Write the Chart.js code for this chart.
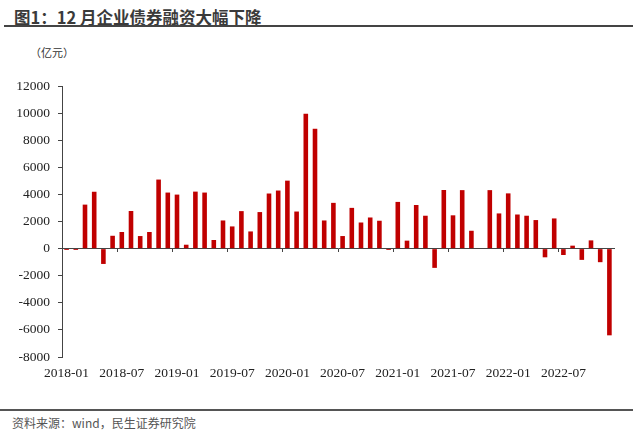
<!DOCTYPE html>
<html>
<head>
<meta charset="utf-8">
<script src="https://cdn.jsdelivr.net/npm/chart.js@4/dist/chart.umd.min.js"></script>
<style>
    body { margin: 0; width: 640px; height: 436px; background: #fff; position: relative; overflow: hidden; }
    .title { position: absolute; left: 14px; top: 5px; font: bold 16.5px "Noto Sans CJK SC", sans-serif; color: #3a3a3a; white-space: nowrap; }
    .title-line { position: absolute; left: 4px; top: 25px; width: 629px; height: 2px; background: #444; }
    .unit { position: absolute; left: 30px; top: 44px; font: 11px "Noto Sans CJK SC", sans-serif; color: #333; white-space: nowrap; }
    .foot-line { position: absolute; left: 0; top: 409px; width: 633px; height: 2px; background: #555; }
    .source { position: absolute; left: 12px; top: 414px; font: 12px "Noto Sans CJK SC", sans-serif; color: #555; white-space: nowrap; }
    #wrap { position: absolute; left: 0; top: 70px; width: 640px; height: 318px; }
</style>
</head>
<body>
<div class="title">图1：12 月企业债券融资大幅下降</div>
<div class="title-line"></div>
<div class="unit">（亿元）</div>
<div id="wrap"><canvas id="bondChart"></canvas></div>
<div class="foot-line"></div>
<div class="source">资料来源：wind，民生证券研究院</div>

<script>
// 月份 2018-01 .. 2022-12
const months = [];
for (let y = 2018; y <= 2022; y++) {
    for (let m = 1; m <= 12; m++) months.push(y + '-' + String(m).padStart(2, '0'));
}

// 企业债券融资（亿元）
const bondFinancing = [
    -100, -100, 3250, 4200, -1130, 950, 1230, 2780, 930, 1230, 5100, 4140,
    3990, 290, 4210, 4140, 640, 2080, 1640, 2770, 1270, 2700, 4070, 4290,
    5020, 2740, 9950, 8850, 2080, 3380, 930, 3010, 1930, 2300, 2060, -100,
    3450, 590, 3220, 2430, -1420, 4330, 2460, 4320, 1320, 0, 4320, 2600,
    4080, 2520, 2430, 2110, -640, 2230, -470, 220, -830, 610, -1000, -6400
];

const yTicks = { min: -8000, max: 12000, step: 2000 };

const axisColor = '#444';
const tickFont = { family: '"Liberation Serif", "Times New Roman", serif', size: 13.5 };

new Chart(document.getElementById('bondChart'), {
    type: 'bar',
    data: {
        labels: months,
        datasets: [{
            data: bondFinancing,
            backgroundColor: '#C00000',
            borderWidth: 0,
            barPercentage: 0.5,
            categoryPercentage: 1,
            xAxisID: 'x'
        }]
    },
    options: {
        responsive: true,
        maintainAspectRatio: false,
        animation: false,
        layout: { padding: { top: 15, right: 26, bottom: 5, left: 0 } },
        plugins: { legend: { display: false }, tooltip: { enabled: false } },
        scales: {
            // 零轴：刻度线每 6 个月一根
            x: {
                type: 'category',
                position: { y: 0 },
                offset: true,
                border: { display: true, color: axisColor, width: 1 },
                grid: {
                    offset: true,
                    drawOnChartArea: false,
                    tickLength: 3,
                    color: ctx => (ctx.index % 6 === 0 && ctx.index > 0) ? axisColor : 'rgba(0,0,0,0)'
                },
                ticks: { display: false, autoSkip: false }
            },
            // 底部日期标签
            xLabels: {
                type: 'category',
                position: 'bottom',
                offset: true,
                border: { display: false },
                grid: { display: false, drawTicks: false },
                afterFit: s => { s.height = 26; },
                ticks: {
                    autoSkip: false,
                    maxRotation: 0,
                    padding: 8,
                    color: '#222',
                    font: tickFont,
                    callback: function(val, i) { return i % 6 === 0 ? months[i] : null; }
                }
            },
            y: {
                min: yTicks.min,
                max: yTicks.max,
                afterFit: s => { s.width = 62; },
                border: { display: true, color: axisColor, width: 1 },
                grid: { drawOnChartArea: false, tickLength: 4, color: axisColor },
                ticks: {
                    stepSize: yTicks.step,
                    padding: 8,
                    color: '#222',
                    font: tickFont,
                    callback: v => String(v)
                }
            }
        }
    }
});
</script>
</body>
</html>
